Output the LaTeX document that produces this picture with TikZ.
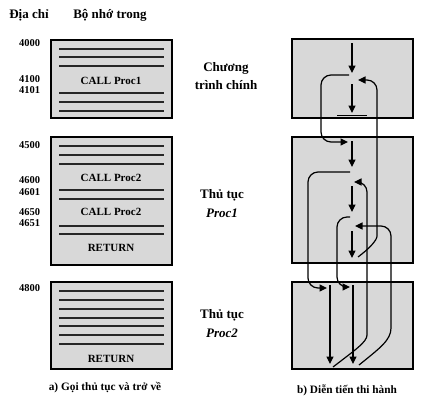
\documentclass[tikz,border=0pt]{standalone}
\usepackage{fontspec}
\setmainfont{Liberation Serif}
\usetikzlibrary{arrows.meta}
\definecolor{boxgray}{HTML}{D8D8D8}
\begin{document}
\begin{tikzpicture}[x=1pt,y=-1pt,
  membox/.style={draw=black, line width=1.3pt, fill=boxgray, anchor=north west, inner sep=0pt, outer sep=0pt},
  memline/.style={line width=1.3pt, black!85},
  hdr/.style={font=\fontsize{13}{14}\selectfont\bfseries, inner sep=0pt},
  addr/.style={font=\fontsize{10.5}{11}\selectfont\bfseries, anchor=west, inner sep=0pt},
  instr/.style={font=\fontsize{11}{12}\selectfont\bfseries, inner sep=0pt},
  captext/.style={font=\fontsize{11.3}{12}\selectfont\bfseries, inner sep=0pt},
  flow/.style={line width=1.2pt, -{Triangle[length=7.5pt,width=7pt]}},
  rc/.style={rounded corners=10pt}]
\useasboundingbox (0,0) rectangle (430,405);

% ---------- left: memory ----------
\node[hdr] (hA) at (29,15) {Địa chỉ};
\node[hdr] (hB) at (110,15) {Bộ nhớ trong};

\node[membox, minimum width=121pt, minimum height=78pt] (m1) at (51,40) {};
\node[membox, minimum width=121pt, minimum height=128pt] (m2) at (51,137) {};
\node[membox, minimum width=121pt, minimum height=87pt] (m3) at (51,282) {};

\foreach \y in {49,57,66,93,102,111,146,155,164,190,199,226,234,291,300,309,318,326,335,344}
  \draw[memline] (59,\y) -- (164,\y);

\node[instr] (c1) at (111,81) {CALL Proc1};
\node[instr] (c2) at (111,178) {CALL Proc2};
\node[instr] (c3) at (111,212) {CALL Proc2};
\node[instr] (r1) at (111,248) {RETURN};
\node[instr] (r2) at (111,359) {RETURN};

\node[addr] (a1) at (19,43) {4000};
\node[addr] (a2) at (19,79) {4100};
\node[addr] (a3) at (19,90) {4101};
\node[addr] (a4) at (19,145) {4500};
\node[addr] (a5) at (19,180) {4600};
\node[addr] (a6) at (19,192) {4601};
\node[addr] (a7) at (19,212) {4650};
\node[addr] (a8) at (19,223) {4651};
\node[addr] (a9) at (19,288) {4800};

% ---------- middle labels ----------
\node[hdr] (l1) at (226,68) {Chương};
\node[hdr] (l2) at (226,85) {trình chính};
\node[hdr] (l3) at (222,195) {Thủ tục};
\node[hdr] (l4) at (222,213) {\itshape Proc1};
\node[hdr] (l5) at (222,315) {Thủ tục};
\node[hdr] (l6) at (222,333) {\itshape Proc2};

% ---------- right: execution ----------
\node[membox, minimum width=121pt, minimum height=79pt] (e1) at (292,39) {};
\node[membox, minimum width=121pt, minimum height=126pt] (e2) at (292,137) {};
\node[membox, minimum width=121pt, minimum height=87pt] (e3) at (292,282) {};

% main program
\draw[flow] (352,43) -- (352,73);
\draw[flow] (352,84) -- (352,113);
\draw[line width=1pt] (337,115) -- (367,115);
% call Proc1
\draw[flow, rc] (349,75) -- (321,75) -- (321,142) -- (348,142);
% return from Proc1
\draw[flow, rc] (358,257) .. controls (370,248) and (377,240) .. (377,226) -- (377,80) -- (358,80);

% Proc1
\draw[flow] (352,141) -- (352,167);
\draw[flow, rc] (350,172) -- (308,172) -- (308,288) -- (327,288);
\draw[flow, rc] (333,367) .. controls (355,350) and (367,342) .. (367,325) -- (367,182) -- (354,182);
\draw[flow] (352,186) -- (352,212);
\draw[flow, rc] (350,217) -- (337,217) -- (337,287) -- (350,287);
\draw[flow, rc] (359,365) .. controls (380,348) and (391,340) .. (391,318) -- (391,226) -- (355,226);
\draw[flow] (352,231) -- (352,258);

% Proc2 (twice)
\draw[flow] (330,285) -- (330,364);
\draw[flow] (353,285) -- (353,364);

% captions
\node[captext] (ca) at (105,388) {a) Gọi thủ tục và trở về};
\node[captext] (cb) at (347,390) {b) Diễn tiến thi hành};
\end{tikzpicture}
\end{document}
